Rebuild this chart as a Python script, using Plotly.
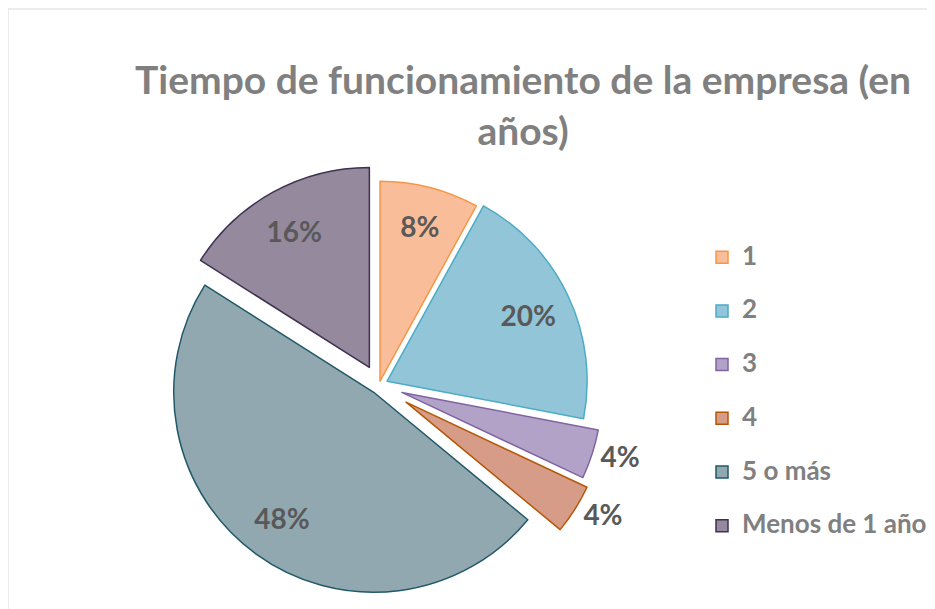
import plotly.graph_objects as go

categories = ["1", "2", "3", "4", "5 o más", "Menos de 1 año"]
values = [8, 20, 4, 4, 48, 16]
pulls = [0.02, 0.045, 0.12, 0.16, 0.045, 0.10]
fill_colors = ["#F9BE99", "#92C5D8", "#B2A2C8", "#D79C88", "#92A8B1", "#958A9D"]
line_colors = ["#F79646", "#4BACC6", "#8064A2", "#B65708", "#215968", "#3F3151"]
outside_mask = [False, False, True, True, False, False]

W, H = 935, 609
cx, cy = 371, 377          # pie centre in figure pixels
ry = H - cy
box_h = 2 * ry
box_w = box_h + 20
domain = dict(x=[(cx - box_w / 2) / W, (cx + box_w / 2) / W], y=[0, box_h / H])

pct = "%{percent:.0%}"
legend_labels = ["<span style='font-size:26px'>" + c + "</span><br> " for c in categories]

main = go.Pie(
    labels=legend_labels,
    values=values,
    sort=False,
    direction="clockwise",
    rotation=0,
    pull=pulls,
    marker=dict(colors=fill_colors, line=dict(color=line_colors, width=1.5)),
    texttemplate=[pct if o else "" for o in outside_mask],
    textposition=["outside" if o else "none" for o in outside_mask],
    outsidetextfont=dict(family="Lato", size=28, color="#595959", weight="bold"),
    domain=domain,
    hovertemplate="%{label}: %{percent:.0%}<extra></extra>",
)

labels_layer = go.Pie(
    labels=legend_labels,
    values=values,
    sort=False,
    direction="clockwise",
    rotation=0,
    pull=pulls,
    hole=0.56,
    showlegend=False,
    marker=dict(colors=["rgba(0,0,0,0)"] * len(values), line=dict(width=0)),
    texttemplate=["" if o else pct for o in outside_mask],
    textposition=["none" if o else "inside" for o in outside_mask],
    insidetextorientation="horizontal",
    insidetextfont=dict(family="Lato", size=28, color="#595959", weight="bold"),
    domain=domain,
    hoverinfo="skip",
)

fig = go.Figure([main, labels_layer])

fig.update_layout(
    width=W, height=H,
    margin=dict(l=0, r=0, t=0, b=0, autoexpand=False),
    paper_bgcolor="white",
    plot_bgcolor="white",
    uniformtext=dict(minsize=28, mode="show"),
    title=dict(
        text="<b>Tiempo de funcionamiento de la empresa (en<br>años)</b>",
        x=515 / W, xanchor="center",
        y=1 - 86 / H, yanchor="top",
        font=dict(family="Lato", size=39, color="#808080"),
    ),
    legend=dict(
        x=694 / W, xanchor="left",
        y=1 - 230 / H, yanchor="top",
        valign="top",
        font=dict(family="Lato", size=19.5, color="#808080", weight="bold"),
        bgcolor="rgba(0,0,0,0)",
    ),
    shapes=[dict(type="rect", xref="paper", yref="paper",
                 x0=0, x1=1, y0=0, y1=1 - 1 / H,
                 line=dict(color="#D9D9D9", width=1), fillcolor="rgba(0,0,0,0)", layer="below")],
)

fig.write_html("out.html")
